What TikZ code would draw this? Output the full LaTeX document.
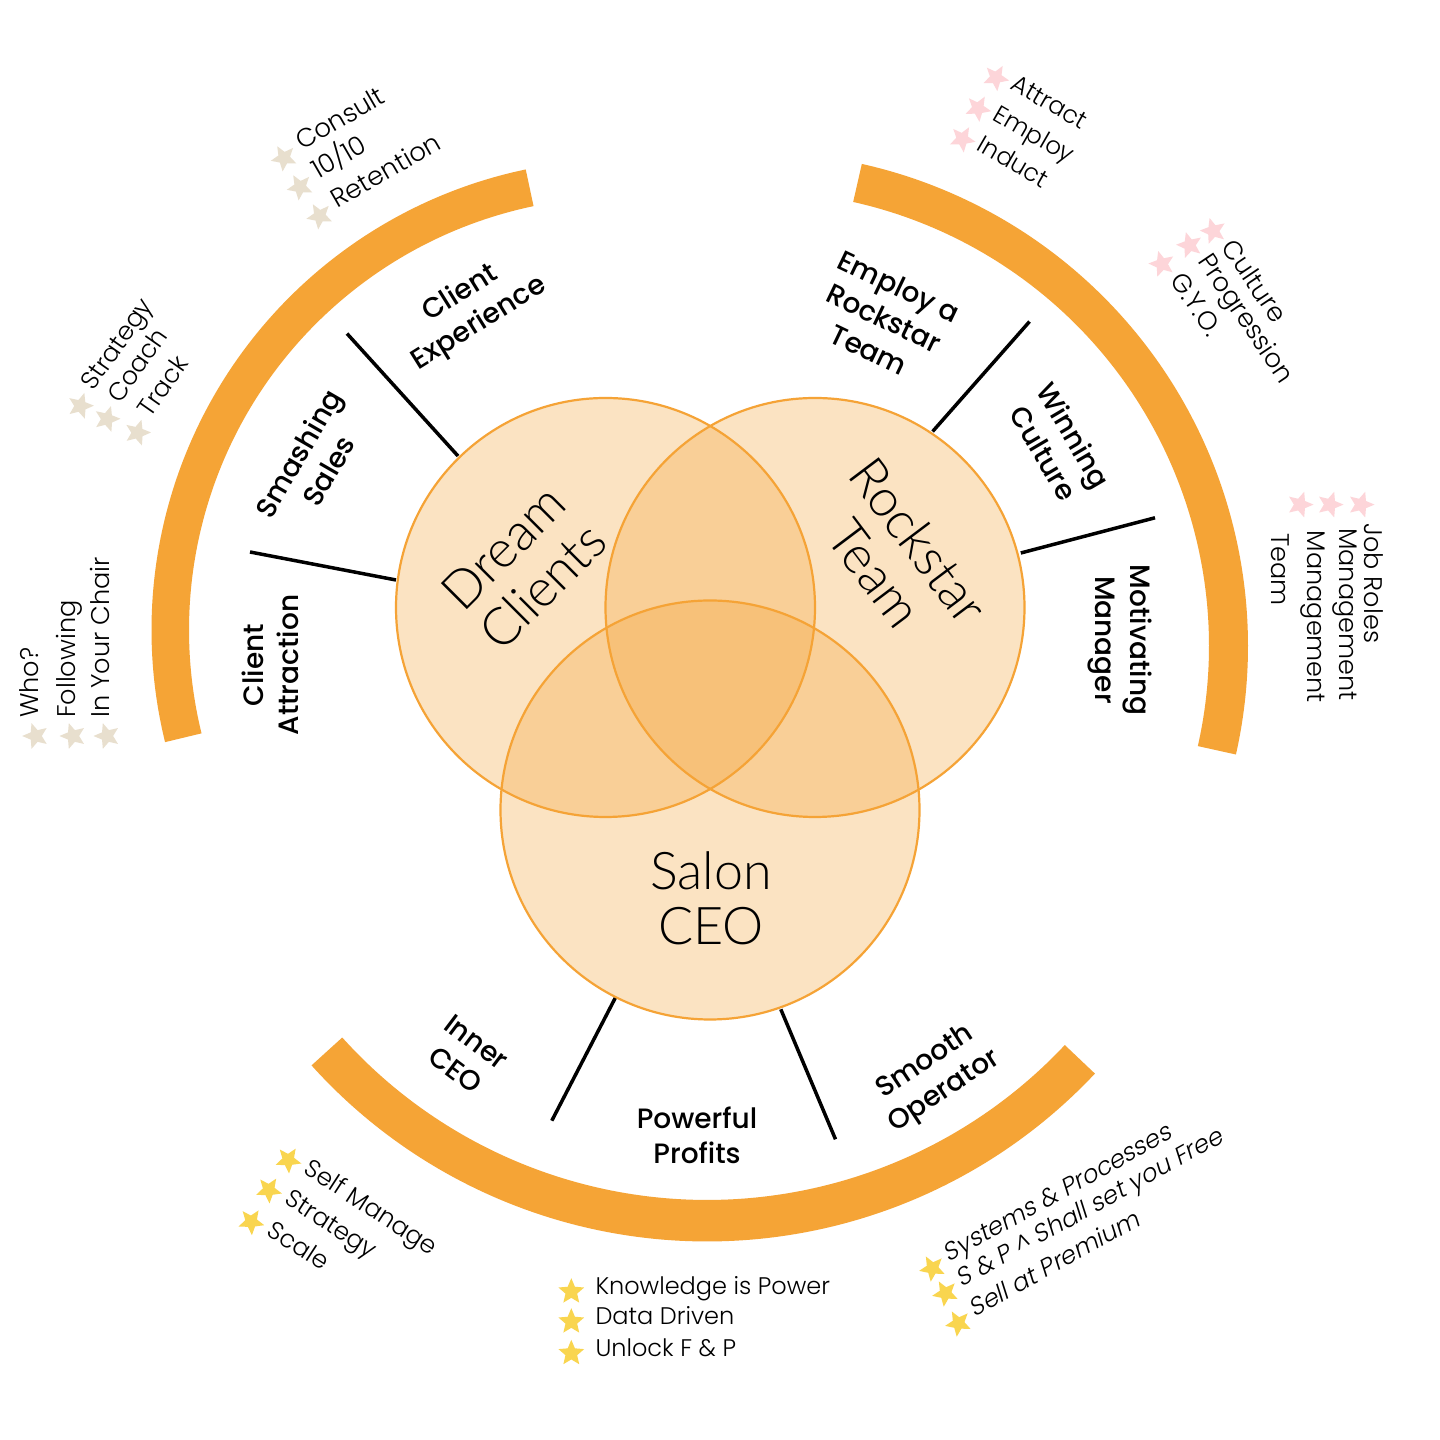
\documentclass[tikz,border=0pt]{standalone}
\usepackage{fontspec}
\setmainfont{Poppins Medium}
\newfontfamily\titlefont{Lato Light}
\newfontfamily\lightfont{Poppins Light}
\newfontfamily\lightslant{Poppins Light}[FakeSlant=0.2]
\usetikzlibrary{shapes.geometric}
\definecolor{arcorange}{HTML}{F5A436}
\definecolor{vennorange}{HTML}{F5A336}
\definecolor{starbeige}{HTML}{E8DFCE}
\definecolor{starpink}{HTML}{FDD5D9}
\definecolor{staryellow}{HTML}{F9D54F}
\tikzset{
  bigarc/.style={draw=arcorange, line cap=butt},
  venn/.style={circle, minimum size=419pt, inner sep=0pt, draw=vennorange, line width=2.2pt, fill=vennorange, fill opacity=0.3, draw opacity=1},
  divider/.style={draw=black, line width=3.5pt, line cap=butt},
  label/.style={font=\fontsize{28}{35}\selectfont, align=center, inner sep=0pt, text=black},
  title/.style={font=\titlefont\fontsize{52}{55}\selectfont, align=center, inner sep=0pt, text=black},
  starbul/.style={star, star points=5, star point ratio=2.2, minimum size=27pt, inner sep=0pt, draw=none},
  bultext/.style={font=\lightfont, inner sep=0pt, anchor=mid west, text=black},
}
% name, x, y, angle, colour, gap, size, text
\newcommand\bulline[8]{%
  \node[starbul, fill=#5, rotate=#4] (#1s) at (#2,#3) {};
  \node[bultext, rotate=#4] (#1t) at ([shift={(#4:#6)}]#2,#3) {\fontsize{#7}{28}\selectfont #8};
}
\begin{document}
\begin{tikzpicture}[x=1pt,y=1pt]
\useasboundingbox (0,0) rectangle (1440,1440);
\fill[white] (0,0) rectangle (1440,1440);

% big arcs
\draw[bigarc, line width=37.5pt] ([shift={(101.8:451.75)}]622,810) arc[start angle=101.8, end angle=193.8, radius=451.75pt];
\draw[bigarc, line width=39pt] ([shift={(-12.7:474.5)}]754,794) arc[start angle=-12.7, end angle=77.4, radius=474.5pt];
\draw[bigarc, line width=41.5pt] ([shift={(222:511.5)}]707,730.8) arc[start angle=222, end angle=316.8, radius=511.5pt];

% dividers
\coordinate (d1a) at (458,984);    \coordinate (d1b) at (347,1106.4);
\coordinate (d2a) at (396,860);    \coordinate (d2b) at (250,888);
\coordinate (d3a) at (932.6,1008.5); \coordinate (d3b) at (1029.5,1118.4);
\coordinate (d4a) at (1020.8,887); \coordinate (d4b) at (1155,922.2);
\coordinate (d5a) at (615.6,442.7); \coordinate (d5b) at (551.8,319.3);
\coordinate (d6a) at (780.8,430.7); \coordinate (d6b) at (835.5,300.7);
\foreach \p in {1,...,6} { \draw[divider] (d\p a) -- (d\p b); }

% venn circles
\node[venn] (dc) at (605.5,832.5) {};
\node[venn] (rt) at (815,832.5) {};
\node[venn] (ceo) at (710,630) {};

% circle titles
\node[title, rotate=45] (tdc) at (523,873) {Dream\\Clients};
\node[title, rotate=-53] (trt) at (897,883) {Rockstar\\Team};
\node[title] (tceo) at (711,542) {Salon\\CEO};

% section labels
\node[label, rotate=32] (lce) at (470,1131) {Client\\Experience};
\node[label, rotate=60] (lss) at (313,978) {Smashing\\Sales};
\node[label, rotate=90] (lca) at (270.5,775) {Client\\Attraction};
\node[label, rotate=-25.5] (ler) at (884,1122) {Employ a\\Rockstar\\Team};
\node[label, rotate=-59.5] (lwc) at (1059,996) {Winning\\Culture};
\node[label, rotate=-90] (lmm) at (1120,800) {Motivating\\Manager};
\node[label, rotate=-37] (lic) at (466,384) {Inner\\CEO};
\node[label] (lpp) at (697,305) {Powerful\\Profits};
\node[label, rotate=33.5] (lso) at (935,363) {Smooth\\Operator};

% bullets: dream clients
\bulline{ga}{284}{1282}{30}{starbeige}{19}{26}{Consult}
\bulline{gb}{300}{1253}{30}{starbeige}{19}{26}{10/10}
\bulline{gc}{319.6}{1224}{30}{starbeige}{19}{26}{Retention}
\bulline{gd}{80.4}{1034.1}{55}{starbeige}{19}{25.2}{Strategy}
\bulline{ge}{107}{1021}{55}{starbeige}{19}{25.2}{Coach}
\bulline{gf}{137.5}{1007.3}{55}{starbeige}{19}{25.2}{Track}
\bulline{gg}{35.7}{704}{90}{starbeige}{18}{25.6}{Who?}
\bulline{gh}{73}{704}{90}{starbeige}{18}{25.6}{Following}
\bulline{gi}{107}{704}{90}{starbeige}{18}{25.6}{In Your Chair}

% bullets: rockstar team
\bulline{ha}{995.9}{1362.3}{-30}{starpink}{17}{24.5}{Attract}
\bulline{hb}{978}{1331.6}{-30}{starpink}{17}{24.5}{Employ}
\bulline{hc}{962.3}{1301}{-30}{starpink}{17}{24.5}{Induct}
\bulline{hd}{1213.3}{1209}{-56}{starpink}{17.5}{26}{Culture}
\bulline{he}{1189.6}{1194.8}{-56}{starpink}{17.5}{26}{Progression}
\bulline{hf}{1161.9}{1176}{-56}{starpink}{17.5}{26}{G.Y.O.}
\node[starbul, fill=starpink, rotate=-90] (hgs) at (1300,935.4) {};
\node[starbul, fill=starpink, rotate=-90] (hhs) at (1330,935.4) {};
\node[starbul, fill=starpink, rotate=-90] (his) at (1361,935.4) {};
\node[bultext, rotate=-90, font=\lightfont\fontsize{25.5}{28}\selectfont] (hgt) at (1367,916.5) {Job Roles};
\node[bultext, rotate=-90, font=\lightfont\fontsize{25.5}{28}\selectfont] (hht) at (1342,912) {Management};
\node[bultext, rotate=-90, font=\lightfont\fontsize{25.5}{28}\selectfont] (hit) at (1310,909.4) {Management};
\node[bultext, rotate=-90, font=\lightfont\fontsize{25.5}{28}\selectfont] (hjt) at (1274,907) {Team};

% bullets: salon ceo
\bulline{ka}{288.3}{280}{-33}{staryellow}{19}{24.8}{Self Manage}
\bulline{kb}{268.8}{250}{-33}{staryellow}{19}{24.8}{Strategy}
\bulline{kc}{251.2}{218.3}{-33}{staryellow}{19}{24.8}{Scale}
\bulline{kd}{571.3}{148.3}{0}{staryellow}{24}{24}{Knowledge is Power}
\bulline{ke}{571.3}{118.3}{0}{staryellow}{24}{24}{Data Driven}
\bulline{kf}{571.3}{86.7}{0}{staryellow}{24}{24}{Unlock F \& P}
\bulline{kg}{932.4}{171.7}{29}{staryellow}{17}{24.8}{\lightslant Systems \& Processes}
\bulline{kh}{945.4}{146.7}{29}{staryellow}{17}{24.8}{\lightslant S \& P \textasciicircum{} Shall set you Free}
\bulline{ki}{958.4}{116.7}{29}{staryellow}{17}{24.8}{\lightslant Sell at Premium}
\end{tikzpicture}
\end{document}
